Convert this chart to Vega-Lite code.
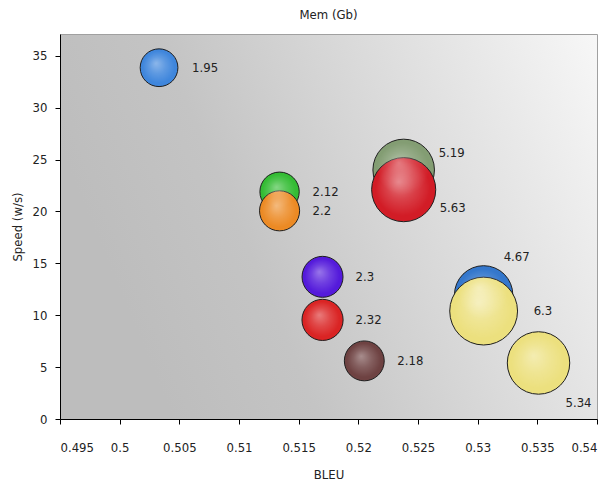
{
  "$schema": "https://vega.github.io/schema/vega-lite/v6.json",
  "width": 537,
  "height": 385,
  "autosize": "none",
  "padding": {"left": 60, "top": 34, "right": 11, "bottom": 64},
  "background": "white",
  "title": {"text": "Mem (Gb)", "fontSize": 13, "font": "DejaVu Sans Condensed, DejaVu Sans", "fontWeight": "normal", "color": "#222222", "offset": 12},
  "config": {
    "view": {"stroke": "#a0a0a0", "strokeWidth": 1, "fill": {"gradient": "linear", "x1": 0, "y1": 0.3, "x2": 1, "y2": 0, "stops": [{"offset": 0, "color": "#bdbdbd"}, {"offset": 0.25, "color": "#c4c4c4"}, {"offset": 1, "color": "#f7f7f7"}]}},
    "axis": {"labelFont": "DejaVu Sans Condensed, DejaVu Sans", "labelFontSize": 13, "labelColor": "#222222", "titleFont": "DejaVu Sans Condensed, DejaVu Sans", "titleFontSize": 13, "titleFontWeight": "normal", "titleColor": "#222222", "domainColor": "#000000", "tickColor": "#000000", "grid": false, "tickSize": 5}
  },
  "data": {"values": [
    {"label": "1.95", "mem": 1.95, "bleu": 0.5033, "speed": 33.85},
    {"label": "2.12", "mem": 2.12, "bleu": 0.5134, "speed": 21.9},
    {"label": "2.2", "mem": 2.2, "bleu": 0.5134, "speed": 20.06},
    {"label": "2.3", "mem": 2.3, "bleu": 0.517, "speed": 13.7},
    {"label": "2.32", "mem": 2.32, "bleu": 0.517, "speed": 9.55},
    {"label": "2.18", "mem": 2.18, "bleu": 0.5205, "speed": 5.6},
    {"label": "5.19", "mem": 5.19, "bleu": 0.5238, "speed": 24.0},
    {"label": "5.63", "mem": 5.63, "bleu": 0.5238, "speed": 22.1},
    {"label": "4.67", "mem": 4.67, "bleu": 0.5305, "speed": 11.96},
    {"label": "6.3", "mem": 6.3, "bleu": 0.5305, "speed": 10.4},
    {"label": "5.34", "mem": 5.34, "bleu": 0.5351, "speed": 5.4}
  ]},
  "encoding": {
    "x": {"field": "bleu", "type": "quantitative", "title": "BLEU",
      "scale": {"domain": [0.495, 0.54], "zero": false, "nice": false},
      "axis": {"values": [0.495, 0.5, 0.505, 0.51, 0.515, 0.52, 0.525, 0.53, 0.535, 0.54], "format": "~g", "labelPadding": 17, "titlePadding": 14}},
    "y": {"field": "speed", "type": "quantitative", "title": "Speed (w/s)",
      "scale": {"domain": [0, 37.1], "nice": false},
      "axis": {"values": [0, 5, 10, 15, 20, 25, 30, 35], "format": "d", "labelPadding": 8, "titlePadding": 8}},
    "size": {"field": "mem", "type": "quantitative", "scale": {"domain": [0, 6.3], "range": [0, 4600], "zero": true}, "legend": null}
  },
  "layer": [
    {
      "mark": {"type": "point", "shape": "circle", "filled": true, "opacity": 1, "stroke": "#1e1e1e", "strokeWidth": 1},
      "encoding": {
        "color": {"field": "label", "type": "nominal", "legend": null,
          "scale": {"domain": ["1.95", "2.12", "2.2", "2.3", "2.32", "2.18", "5.19", "5.63", "4.67", "6.3", "5.34"],
            "range": ["#3f86dc", "#34bc34", "#ec8a24", "#541adb", "#da2424", "#6e4242", "#839d73", "#d21c26", "#3477cc", "#ece07e", "#ece07e"]}}
      }
    },
    {
      "mark": {"type": "point", "shape": "circle", "filled": true, "opacity": 1, "strokeWidth": 0,
        "fill": {"gradient": "radial", "x1": 0.42, "y1": 0.38, "r1": 0, "x2": 0.5, "y2": 0.5, "r2": 0.5,
          "stops": [{"offset": 0, "color": "rgba(255,255,255,0.4)"}, {"offset": 0.45, "color": "rgba(255,255,255,0.16)"}, {"offset": 0.85, "color": "rgba(255,255,255,0)"}, {"offset": 1, "color": "rgba(255,255,255,0)"}]}}
    },
    {
      "transform": [{"filter": "indexof(['1.95','2.12','2.2','2.3','2.32','2.18'], datum.label) >= 0"}],
      "mark": {"type": "text", "align": "left", "baseline": "middle", "dx": 33, "dy": 0, "font": "DejaVu Sans Condensed, DejaVu Sans", "fontSize": 13, "color": "#222222"},
      "encoding": {"text": {"field": "label", "type": "nominal"}, "size": null}
    },
    {
      "transform": [{"filter": "datum.label == '6.3'"}],
      "mark": {"type": "text", "align": "left", "baseline": "middle", "dx": 50, "dy": 0, "font": "DejaVu Sans Condensed, DejaVu Sans", "fontSize": 13, "color": "#222222"},
      "encoding": {"text": {"field": "label", "type": "nominal"}, "size": null}
    },
    {
      "transform": [{"filter": "datum.label == '5.19'"}],
      "mark": {"type": "text", "align": "left", "baseline": "middle", "dx": 35, "dy": -17, "font": "DejaVu Sans Condensed, DejaVu Sans", "fontSize": 13, "color": "#222222"},
      "encoding": {"text": {"field": "label", "type": "nominal"}, "size": null}
    },
    {
      "transform": [{"filter": "datum.label == '5.63'"}],
      "mark": {"type": "text", "align": "left", "baseline": "middle", "dx": 36, "dy": 18, "font": "DejaVu Sans Condensed, DejaVu Sans", "fontSize": 13, "color": "#222222"},
      "encoding": {"text": {"field": "label", "type": "nominal"}, "size": null}
    },
    {
      "transform": [{"filter": "datum.label == '4.67'"}],
      "mark": {"type": "text", "align": "left", "baseline": "middle", "dx": 20, "dy": -38, "font": "DejaVu Sans Condensed, DejaVu Sans", "fontSize": 13, "color": "#222222"},
      "encoding": {"text": {"field": "label", "type": "nominal"}, "size": null}
    },
    {
      "transform": [{"filter": "datum.label == '5.34'"}],
      "mark": {"type": "text", "align": "left", "baseline": "middle", "dx": 27, "dy": 40, "font": "DejaVu Sans Condensed, DejaVu Sans", "fontSize": 13, "color": "#222222"},
      "encoding": {"text": {"field": "label", "type": "nominal"}, "size": null}
    }
  ]
}
